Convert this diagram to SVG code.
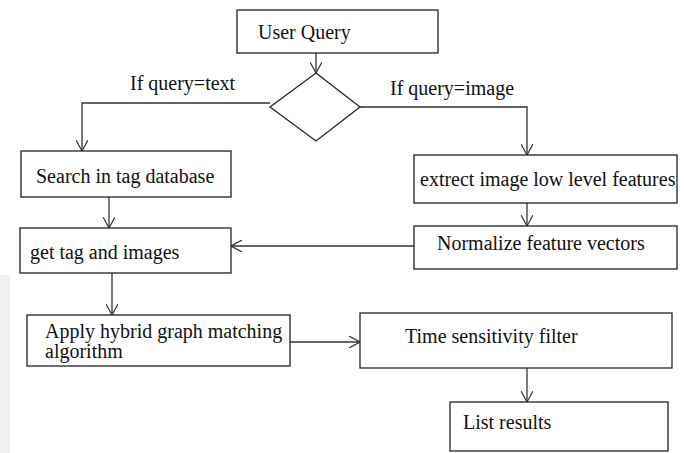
<svg xmlns="http://www.w3.org/2000/svg" width="684" height="453" viewBox="0 0 684 453">
<style>
.box{fill:#fff;stroke:#222;stroke-width:1.3}
.t{font-family:"Liberation Serif","Times New Roman",serif;font-size:20px;fill:#111}
.c{fill:none;stroke:#333;stroke-width:1.3}
</style>
<defs>
<marker id="ah" viewBox="0 0 12 12" refX="11" refY="6" markerWidth="12" markerHeight="12" markerUnits="userSpaceOnUse" orient="auto">
<path d="M0,0 L11,6 L0,12" fill="none" stroke="#333" stroke-width="1.2"/>
</marker>
</defs>
<rect width="684" height="453" fill="#fff"/>
<rect x="0" y="275" width="10" height="178" fill="#f0f0f0"/>
<g id="connectors">
<line class="c" x1="316" y1="53" x2="316" y2="73" marker-end="url(#ah)"/>
<polyline class="c" points="270,103 82,103 82,151" marker-end="url(#ah)"/>
<polyline class="c" points="360,107 527,107 527,155" marker-end="url(#ah)"/>
<line class="c" x1="109" y1="197" x2="109" y2="228" marker-end="url(#ah)"/>
<line class="c" x1="527" y1="203" x2="527" y2="226" marker-end="url(#ah)"/>
<line class="c" x1="414" y1="246" x2="231" y2="246" marker-end="url(#ah)"/>
<line class="c" x1="112" y1="273" x2="112" y2="315" marker-end="url(#ah)"/>
<line class="c" x1="290" y1="342" x2="360" y2="342" marker-end="url(#ah)"/>
<line class="c" x1="527" y1="368" x2="527" y2="402" marker-end="url(#ah)"/>
<text class="t" x="130" y="90">If query=text</text>
<text class="t" x="390" y="95">If query=image</text>
</g>
<g id="userQuery"><rect class="box" x="237" y="10" width="201" height="43"/><text class="t" x="258" y="39">User Query</text></g>
<g id="decision"><polygon class="box" points="316,73 360,107 316,141 270,107"/></g>
<g id="searchTag"><rect class="box" x="21" y="151" width="210" height="46"/><text class="t" x="36" y="183">Search in tag database</text></g>
<g id="getTag"><rect class="box" x="20" y="228" width="211" height="45"/><text class="t" x="30" y="259">get tag and images</text></g>
<g id="extract"><rect class="box" x="414" y="155" width="263" height="48"/><text class="t" x="420" y="186">extrect image low level features</text></g>
<g id="normalize"><rect class="box" x="414" y="226" width="263" height="43"/><text class="t" x="437" y="250">Normalize feature vectors</text></g>
<g id="apply"><rect class="box" x="27" y="315" width="263" height="51"/><text class="t" x="45" y="338">Apply hybrid graph matching</text><text class="t" x="45" y="358">algorithm</text></g>
<g id="timeFilter"><rect class="box" x="360" y="313" width="312" height="55"/><text class="t" x="405" y="343">Time sensitivity filter</text></g>
<g id="listResults"><rect class="box" x="450" y="402" width="218" height="49"/><text class="t" x="463" y="429">List results</text></g>
</svg>
